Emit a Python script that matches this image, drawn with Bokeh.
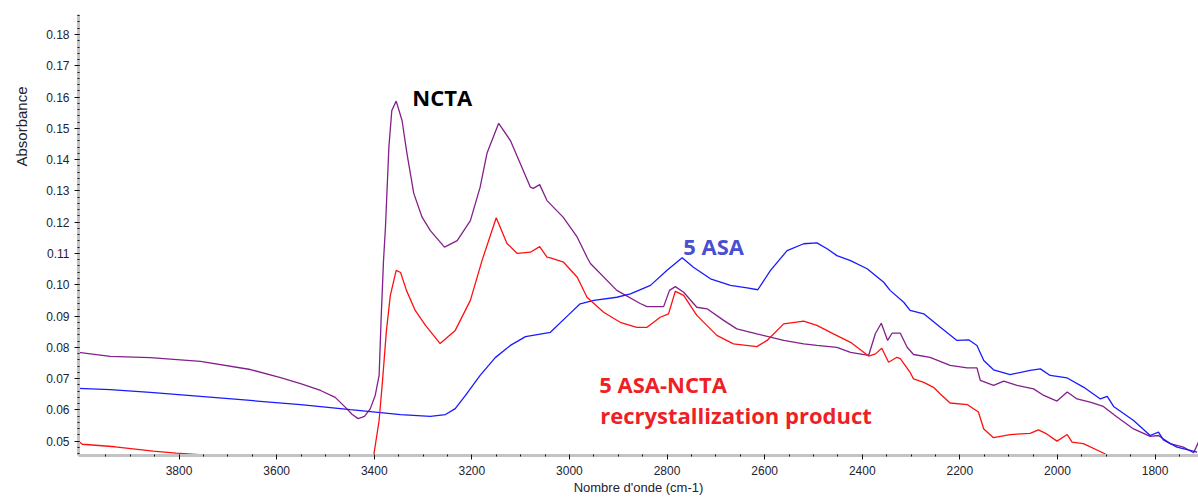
from bokeh.plotting import figure
from bokeh.models import Range1d, Label, Title, SingleIntervalTicker, FixedTicker, NumeralTickFormatter
from bokeh.embed import file_html
from bokeh.resources import INLINE

# ---------------- data ----------------
wn_ncta = [4006, 3941, 3859, 3756, 3654, 3592, 3551, 3510, 3480, 3459, 3445, 3433, 3420, 3408,
           3398, 3390, 3386, 3381, 3377, 3370, 3364, 3355, 3343, 3333, 3319, 3302, 3285, 3256,
           3230, 3203, 3183, 3169, 3145, 3121, 3101, 3080, 3074, 3061, 3046, 3013, 2984, 2964,
           2957, 2903, 2855, 2841, 2807, 2795, 2783, 2766, 2739, 2718, 2684, 2657, 2616, 2561,
           2520, 2493, 2452, 2424, 2387, 2373, 2361, 2348, 2339, 2322, 2308, 2295, 2261, 2220,
           2185, 2165, 2158, 2131, 2110, 2083, 2049, 2028, 2001, 1980, 1960, 1933, 1906, 1878,
           1844, 1810, 1793, 1769, 1742, 1721, 1711]
abs_ncta = [0.0784, 0.0771, 0.0767, 0.0755, 0.0729, 0.0703, 0.0684, 0.0662, 0.0640, 0.0608,
            0.0585, 0.0572, 0.0579, 0.0604, 0.0646, 0.0710, 0.0886, 0.1077, 0.1184, 0.1440,
            0.1557, 0.1587, 0.1525, 0.1420, 0.1292, 0.1216, 0.1173, 0.1120, 0.1141, 0.1205,
            0.1312, 0.1420, 0.1516, 0.1461, 0.1388, 0.1312, 0.1308, 0.1320, 0.1269, 0.1216,
            0.1152, 0.1088, 0.1068, 0.0982, 0.0940, 0.0930, 0.0930, 0.0982, 0.0994, 0.0976,
            0.0928, 0.0923, 0.0886, 0.0859, 0.0843, 0.0822, 0.0811, 0.0806, 0.0800, 0.0784,
            0.0774, 0.0844, 0.0877, 0.0822, 0.0845, 0.0845, 0.0800, 0.0777, 0.0768, 0.0742,
            0.0734, 0.0734, 0.0694, 0.0678, 0.0692, 0.0678, 0.0667, 0.0646, 0.0628, 0.0657,
            0.0635, 0.0625, 0.0611, 0.0577, 0.0539, 0.0515, 0.0518, 0.0492, 0.0481, 0.0463,
            0.0497]

wn_asa = [4006, 3941, 3859, 3756, 3654, 3551, 3449, 3346, 3285, 3254, 3234, 3213, 3183, 3152,
          3121, 3090, 3039, 3003, 2978, 2950, 2903, 2875, 2834, 2800, 2769, 2746, 2711, 2670,
          2636, 2614, 2588, 2554, 2520, 2493, 2472, 2452, 2424, 2390, 2356, 2343, 2315, 2302,
          2274, 2240, 2206, 2182, 2165, 2151, 2131, 2097, 2056, 2035, 2015, 1980, 1946, 1912,
          1898, 1885, 1844, 1810, 1793, 1783, 1755, 1714]
abs_asa = [0.0669, 0.0665, 0.0656, 0.0643, 0.0630, 0.0617, 0.0601, 0.0585, 0.0579, 0.0585,
           0.0604, 0.0646, 0.0710, 0.0767, 0.0806, 0.0834, 0.0848, 0.0902, 0.0939, 0.0950,
           0.0960, 0.0971, 0.0998, 0.1046, 0.1086, 0.1056, 0.1019, 0.0998, 0.0990, 0.0984,
           0.1046, 0.1109, 0.1131, 0.1134, 0.1115, 0.1093, 0.1077, 0.1051, 0.1008, 0.0982,
           0.0944, 0.0918, 0.0907, 0.0864, 0.0822, 0.0824, 0.0806, 0.0758, 0.0728, 0.0713,
           0.0726, 0.0731, 0.0710, 0.0702, 0.0672, 0.0635, 0.0643, 0.0611, 0.0566, 0.0518,
           0.0529, 0.0504, 0.0481, 0.0465]

wn_product = [4006, 3998, 3931, 3853, 3806, 3750, 3735, 3650, 3500, 3420, 3402, 3390, 3383,
              3375, 3367, 3355, 3346, 3334, 3316, 3295, 3265, 3234, 3203, 3179, 3150, 3128,
              3107, 3080, 3061, 3046, 3039, 3012, 2984, 2964, 2930, 2896, 2862, 2841, 2814,
              2797, 2783, 2766, 2739, 2698, 2664, 2616, 2595, 2561, 2520, 2493, 2459, 2424,
              2387, 2373, 2360, 2346, 2329, 2322, 2302, 2295, 2274, 2254, 2240, 2220, 2185,
              2162, 2151, 2131, 2097, 2056, 2039, 2022, 2001, 1980, 1970, 1947, 1906, 1880]
abs_product = [0.0500, 0.0490, 0.0482, 0.0468, 0.0462, 0.0456, 0.0448, 0.0440, 0.0435, 0.0435,
               0.0445, 0.0566, 0.0694, 0.0854, 0.0966, 0.1046, 0.1039, 0.0982, 0.0918, 0.0870,
               0.0812, 0.0854, 0.0950, 0.1078, 0.1214, 0.1132, 0.1100, 0.1104, 0.1122, 0.1088,
               0.1086, 0.1072, 0.1024, 0.0960, 0.0912, 0.0880, 0.0864, 0.0864, 0.0896, 0.0907,
               0.0979, 0.0966, 0.0902, 0.0838, 0.0811, 0.0802, 0.0822, 0.0875, 0.0884, 0.0870,
               0.0843, 0.0816, 0.0772, 0.0779, 0.0797, 0.0752, 0.0768, 0.0764, 0.0720, 0.0699,
               0.0688, 0.0672, 0.0651, 0.0622, 0.0617, 0.0593, 0.0539, 0.0511, 0.0521, 0.0525,
               0.0536, 0.0523, 0.0500, 0.0521, 0.0497, 0.0492, 0.0462, 0.0440]

# x ticks: labelled every 200 from 3800, minor every 50
x_major_ticks = [3800, 3600, 3400, 3200, 3000, 2800, 2600, 2400, 2200, 2000, 1800]
x_minor_ticks = [3950, 3900, 3850, 3750, 3700, 3650, 3550, 3500, 3450, 3350, 3300, 3250,
                 3150, 3100, 3050, 2950, 2900, 2850, 2750, 2700, 2650, 2550, 2500, 2450,
                 2350, 2300, 2250, 2150, 2100, 2050, 1950, 1900, 1850, 1750]

y_label = "Absorbance"
x_label = "Nombre d'onde (cm-1)"
ann_ncta = "NCTA"
ann_asa = "5 ASA"
ann_prod_1 = "5 ASA-NCTA"
ann_prod_2 = "recrystallization product"

# ---------------- figure ----------------
p = figure(width=1198, height=497, output_backend="svg", toolbar_location=None,
           x_range=Range1d(4006, 1711), y_range=Range1d(0.04541, 0.18639),
           min_border_left=78, min_border_right=0, min_border_top=14, min_border_bottom=42)
p.outline_line_color = None
p.background_fill_color = "white"
p.border_fill_color = "white"
p.xgrid.visible = False
p.ygrid.visible = False

p.line(wn_ncta, abs_ncta, line_color="#84208c", line_width=1.3)
p.line(wn_asa, abs_asa, line_color="#1a1aff", line_width=1.3)
p.line(wn_product, abs_product, line_color="#ff1010", line_width=1.3)

for ax in (p.xaxis[0], p.yaxis[0]):
    ax.axis_line_color = "#c4c4c4"
    ax.axis_line_width = 3
    ax.major_tick_line_color = "#111111"
    ax.minor_tick_line_color = "#111111"
    ax.major_tick_in = 1
    ax.major_tick_out = 4
    ax.minor_tick_in = 1
    ax.minor_tick_out = 1
    ax.major_label_text_font = "Liberation Sans"
    ax.major_label_text_font_size = "12px"
    ax.major_label_text_color = "#222230"
    ax.axis_label_text_font = "Liberation Sans"
    ax.axis_label_text_font_style = "normal"
    ax.axis_label_text_color = "#222230"

p.xaxis.ticker = FixedTicker(ticks=x_major_ticks, minor_ticks=x_minor_ticks)
p.yaxis.ticker = SingleIntervalTicker(interval=0.01, num_minor_ticks=5)
p.yaxis.formatter = NumeralTickFormatter(format="0.00")
p.xaxis.major_label_standoff = 6
p.yaxis.major_label_standoff = 5

p.xaxis.axis_label = x_label
p.xaxis.axis_label_text_font_size = "13px"
p.xaxis.axis_label_standoff = 2

# y axis title placed in the upper part of the left border, like the reference
p.add_layout(Title(text=y_label, align="right", offset=72, vertical_align="top",
                   standoff=24, text_font="Liberation Sans", text_font_style="normal",
                   text_font_size="15px", text_color="#222230"), "left")

# annotations
p.add_layout(Label(x=3322, y=0.1600, text=ann_ncta, text_font="Open Sans",
                   text_font_style="bold", text_font_size="22px", text_color="#000000",
                   text_baseline="alphabetic"))
p.add_layout(Label(x=2767, y=0.1125, text=ann_asa, text_font="Open Sans",
                   text_font_style="bold", text_font_size="22px", text_color="#4a4fd2",
                   text_baseline="alphabetic"))
p.add_layout(Label(x=2939, y=0.0684, text=ann_prod_1, text_font="Open Sans",
                   text_font_style="bold", text_font_size="22px", text_color="#ee1f26",
                   text_baseline="alphabetic"))
p.add_layout(Label(x=2937, y=0.0585, text=ann_prod_2, text_font="Open Sans",
                   text_font_style="bold", text_font_size="22px", text_color="#ee1f26",
                   text_baseline="alphabetic"))

open("out.html", "w").write(file_html(p, INLINE))
